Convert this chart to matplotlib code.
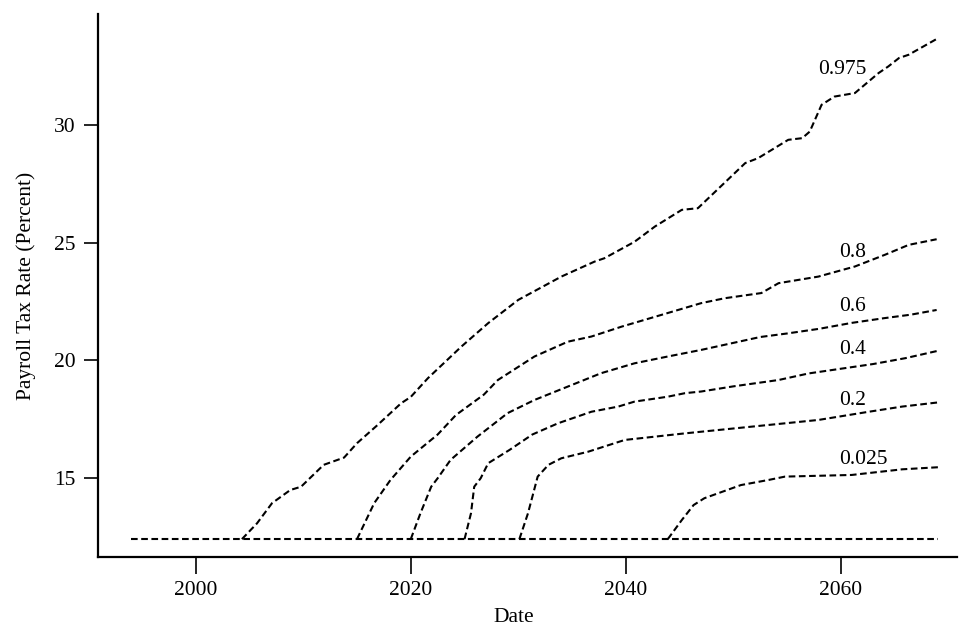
"""
Payroll tax rate quantile paths.

Dashed quantile curves of the projected payroll tax rate, each one leaving
the current 12.4 percent rate at a different date.
"""

import matplotlib
matplotlib.use("Agg")
import matplotlib.pyplot as plt


OUTPUT_PATH = "out.png"

# Current law rate, drawn once as the shared flat segment
BASE_YEARS = [1994, 2069]
BASE_RATE = [12.4, 12.4]

# Quantile paths (year, rate in percent)
Q975_YEARS = [2004.3, 2005.7, 2007.1, 2008.8, 2009.8, 2011.9, 2013.8, 2015.0,
              2016.9, 2019.1, 2020.0, 2021.6, 2024.7, 2027.2, 2030.0, 2034.0,
              2037.1, 2038.0, 2040.8, 2042.7, 2045.2, 2046.7, 2051.1, 2052.3,
              2055.1, 2056.4, 2057.1, 2058.2, 2059.4, 2061.3, 2063.5, 2064.4,
              2065.4, 2066.3, 2068.9]
Q975_RATE = [12.4, 13.07, 13.93, 14.49, 14.63, 15.56, 15.87, 16.48,
             17.25, 18.18, 18.45, 19.25, 20.59, 21.59, 22.58, 23.57,
             24.21, 24.35, 25.05, 25.70, 26.41, 26.48, 28.40, 28.61,
             29.39, 29.46, 29.74, 30.88, 31.23, 31.38, 32.23, 32.51,
             32.87, 33.01, 33.68]

Q80_YEARS = [2015.0, 2016.6, 2018.1, 2020.0, 2022.5, 2024.2, 2026.8, 2028.1,
             2031.5, 2034.6, 2036.8, 2039.6, 2043.3, 2047.0, 2049.2, 2052.6,
             2054.2, 2057.9, 2061.3, 2064.1, 2066.3, 2068.9]
Q80_RATE = [12.4, 13.93, 14.91, 15.91, 16.85, 17.68, 18.55, 19.17,
            20.17, 20.80, 21.02, 21.44, 21.94, 22.44, 22.65, 22.87,
            23.29, 23.57, 24.0, 24.50, 24.92, 25.16]

Q60_YEARS = [2020.0, 2020.9, 2021.9, 2022.5, 2023.7, 2026.2, 2027.8, 2029.0,
             2031.5, 2034.6, 2037.7, 2040.8, 2043.9, 2047.0, 2050.0, 2052.5,
             2055.0, 2058.0, 2061.0, 2064.0, 2066.5, 2068.9]
Q60_RATE = [12.4, 13.5, 14.63, 14.99, 15.77, 16.76, 17.33, 17.76,
            18.32, 18.89, 19.46, 19.88, 20.17, 20.45, 20.75, 21.0,
            21.15, 21.35, 21.6, 21.8, 21.95, 22.15]

Q40_YEARS = [2025.0, 2025.6, 2025.9, 2026.5, 2027.2, 2029.2, 2031.3, 2033.7,
             2036.8, 2039.3, 2040.8, 2043.9, 2045.5, 2047.0, 2050.0, 2054.2,
             2057.0, 2060.0, 2063.0, 2066.0, 2068.9]
Q40_RATE = [12.4, 13.5, 14.63, 14.99, 15.63, 16.2, 16.85, 17.33,
            17.82, 18.04, 18.25, 18.46, 18.61, 18.68, 18.9, 19.17,
            19.45, 19.65, 19.85, 20.1, 20.4]

Q20_YEARS = [2030.1, 2030.9, 2031.8, 2032.8, 2034.0, 2036.5, 2039.9, 2045.5,
             2051.8, 2057.9, 2062.6, 2065.7, 2069.1]
Q20_RATE = [12.4, 13.5, 15.06, 15.56, 15.84, 16.12, 16.62, 16.90,
            17.19, 17.47, 17.82, 18.04, 18.22]

Q025_YEARS = [2043.9, 2045.2, 2046.3, 2047.3, 2050.7, 2053.3, 2054.8, 2061.0,
              2065.7, 2069.1]
Q025_RATE = [12.4, 13.21, 13.85, 14.14, 14.70, 14.92, 15.06, 15.13,
             15.37, 15.46]

# Curve labels and where they sit (year, rate)
LABELS = ["0.975", "0.8", "0.6", "0.4", "0.2", "0.025"]
LABEL_YEARS = [2057.9, 2059.8, 2059.8, 2059.8, 2059.8, 2059.8]
LABEL_RATES = [32.4, 24.6, 22.3, 20.45, 18.3, 15.8]

X_TICKS = [2000, 2020, 2040, 2060]
Y_TICKS = [15, 20, 25, 30]


def plot_quantiles(output_path):
    """Draw the dashed quantile paths with inline labels."""
    plt.rcParams['font.family'] = ['Liberation Serif', 'DejaVu Serif']

    fig = plt.figure(figsize=(9.59, 6.29), dpi=100)
    ax = fig.add_axes([0.102, 0.1145, 0.896, 0.8635])

    dash = dict(color='black', linewidth=1.5, linestyle=(0, (3.2, 1.7)))
    ax.plot(BASE_YEARS, BASE_RATE, **dash)
    series = [
        (Q975_YEARS, Q975_RATE),
        (Q80_YEARS, Q80_RATE),
        (Q60_YEARS, Q60_RATE),
        (Q40_YEARS, Q40_RATE),
        (Q20_YEARS, Q20_RATE),
        (Q025_YEARS, Q025_RATE),
    ]
    for years, rate in series:
        ax.plot(years, rate, **dash)

    for text, x, y in zip(LABELS, LABEL_YEARS, LABEL_RATES):
        ax.text(x, y, text, fontsize=15.5, ha='left', va='center')

    ax.set_xlim(1990.9, 2070.8)
    ax.set_ylim(11.64, 34.75)
    ax.set_xticks(X_TICKS)
    ax.set_yticks(Y_TICKS)

    for side in ['top', 'right']:
        ax.spines[side].set_visible(False)
    for side in ['left', 'bottom']:
        ax.spines[side].set_linewidth(1.6)

    ax.tick_params(axis='x', length=12, width=1.2, labelsize=15.5, pad=5)
    ax.tick_params(axis='y', length=10, width=1.2, labelsize=15.5, pad=6)

    ax.set_xlabel('Date', fontsize=15.5)
    ax.xaxis.set_label_coords(0.484, -0.094)
    ax.set_ylabel('Payroll Tax Rate (Percent)', fontsize=15.5)
    ax.yaxis.set_label_coords(-0.072, 0.5)

    plt.savefig(output_path, dpi=100)
    plt.close()


def main():
    plot_quantiles(OUTPUT_PATH)


if __name__ == "__main__":
    main()
